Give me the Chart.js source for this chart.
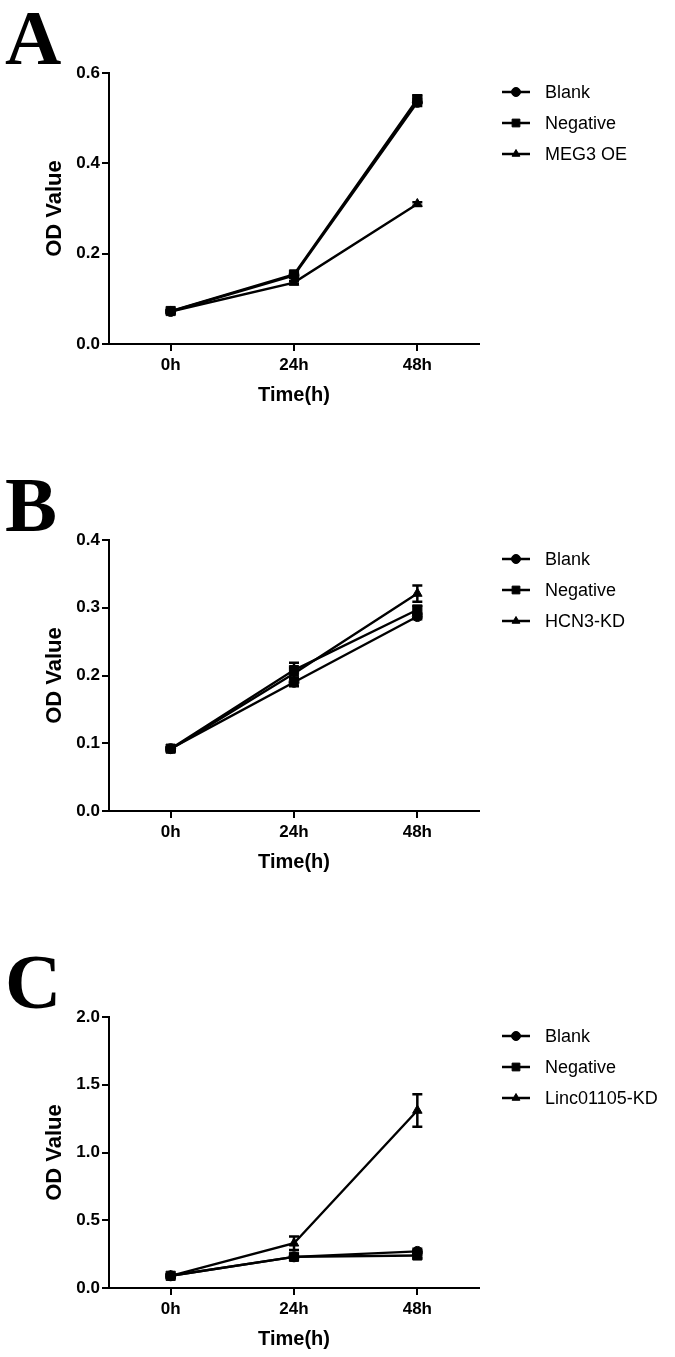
<!DOCTYPE html>
<html>
<head>
<meta charset="utf-8">
<script src="https://cdn.jsdelivr.net/npm/chart.js@4.4.0/dist/chart.umd.min.js"></script>
<style>
  body { margin: 0; background: #fff; width: 675px; height: 1357px; position: relative; overflow: hidden; }
  .panel { position: absolute; left: 0; width: 675px; height: 413px; }
  .letter { position: absolute; left: 5px; top: -1px; font: bold 78px/78px 'Liberation Serif', 'DejaVu Serif', serif; color: #000; }
</style>
</head>
<body>
<div class="panel" style="top:0px"><canvas id="chartA" width="675" height="413"></canvas><div class="letter">A</div></div>
<div class="panel" style="top:467px"><canvas id="chartB" width="675" height="413"></canvas><div class="letter">B</div></div>
<div class="panel" style="top:944px"><canvas id="chartC" width="675" height="413"></canvas><div class="letter">C</div></div>
<script>
'use strict';

// time points
var timeLabels = ['0h', '24h', '48h'];

// panel A - MEG3 overexpression
var aNames = ['Blank', 'Negative', 'MEG3 OE'];
var aBlank = [0.072, 0.152, 0.535];
var aNegative = [0.073, 0.154, 0.542];
var aMeg3 = [0.072, 0.136, 0.310];
var aBlankErr = [0.003, 0.004, 0.008];
var aNegativeErr = [0.003, 0.004, 0.009];
var aMeg3Err = [0.002, 0.003, 0.004];
var aTicks = { max: 0.6, step: 0.2 };

// panel B - HCN3 knockdown
var bNames = ['Blank', 'Negative', 'HCN3-KD'];
var bBlank = [0.092, 0.190, 0.287];
var bNegative = [0.092, 0.208, 0.297];
var bHcn3 = [0.091, 0.203, 0.321];
var bBlankErr = [0.002, 0.006, 0.004];
var bNegativeErr = [0.002, 0.011, 0.006];
var bHcn3Err = [0.002, 0.008, 0.012];
var bTicks = { max: 0.4, step: 0.1 };

// panel C - Linc01105 knockdown
var cNames = ['Blank', 'Negative', 'Linc01105-KD'];
var cBlank = [0.09, 0.23, 0.27];
var cNegative = [0.09, 0.23, 0.24];
var cLinc = [0.09, 0.33, 1.31];
var cBlankErr = [0.01, 0.02, 0.02];
var cNegativeErr = [0.01, 0.02, 0.02];
var cLincErr = [0.01, 0.05, 0.12];
var cTicks = { max: 2.0, step: 0.5 };

var markers = ['circle', 'rect', 'triangle'];
var markerSize = [5, 6.5, 5.5];

// vertical SEM bars drawn on the y scale
const errorBars = {
    id: 'errorBars',
    afterDatasetsDraw(chart) {
        const ctx = chart.ctx;
        const y = chart.scales.y;
        ctx.save();
        ctx.strokeStyle = '#000';
        ctx.lineWidth = 2.5;
        chart.data.datasets.forEach((ds, i) => {
            const meta = chart.getDatasetMeta(i);
            meta.data.forEach((pt, j) => {
                const v = ds.data[j], e = ds.errors[j];
                const top = y.getPixelForValue(v + e);
                const bot = y.getPixelForValue(v - e);
                ctx.beginPath();
                ctx.moveTo(pt.x, top); ctx.lineTo(pt.x, bot);
                ctx.moveTo(pt.x - 5, top); ctx.lineTo(pt.x + 5, top);
                ctx.moveTo(pt.x - 5, bot); ctx.lineTo(pt.x + 5, bot);
                ctx.stroke();
            });
        });
        ctx.restore();
    }
};

// legend on the right: line with marker, then label
const sideLegend = {
    id: 'sideLegend',
    afterDraw(chart) {
        const ctx = chart.ctx;
        ctx.save();
        chart.data.datasets.forEach((ds, i) => {
            const yy = 92 + i * 31;
            ctx.strokeStyle = '#000';
            ctx.fillStyle = '#000';
            ctx.lineWidth = 2.5;
            ctx.beginPath();
            ctx.moveTo(502, yy); ctx.lineTo(530, yy);
            ctx.stroke();
            ctx.lineWidth = 1;
            Chart.helpers.drawPoint(ctx, {
                pointStyle: ds.pointStyle,
                radius: ds.pointStyle === 'triangle' ? 4.5 : (ds.pointStyle === 'rect' ? 5.5 : 4.5),
                rotation: 0,
                borderWidth: 1
            }, 516, yy);
            ctx.font = '18px "Liberation Sans", Arial, sans-serif';
            ctx.textBaseline = 'middle';
            ctx.textAlign = 'left';
            ctx.fillText(ds.label, 545, yy + 1);
        });
        ctx.restore();
    }
};

function makePanel(id, names, series, errs, ticks) {
    var datasets = [];
    for (var i = 0; i < series.length; i++) {
        datasets.push({
            label: names[i],
            data: series[i],
            errors: errs[i],
            borderColor: '#000',
            backgroundColor: '#000',
            borderWidth: 2.4,
            pointStyle: markers[i],
            pointRadius: markerSize[i],
            pointBackgroundColor: '#000',
            pointBorderColor: '#000',
            pointBorderWidth: 1,
            tension: 0
        });
    }
    return new Chart(document.getElementById(id), {
        type: 'line',
        data: { labels: timeLabels, datasets: datasets },
        options: {
            responsive: false,
            animation: false,
            layout: { padding: { left: 38, top: 73, right: 196, bottom: 0 } },
            plugins: { legend: { display: false }, tooltip: { enabled: false } },
            scales: {
                x: {
                    offset: true,
                    grid: { drawOnChartArea: false, color: '#000', lineWidth: 2, tickLength: 7 },
                    border: { color: '#000', width: 2 },
                    ticks: { color: '#000', padding: 4, font: { family: 'Liberation Sans', size: 17, weight: 'bold' } },
                    title: {
                        display: true, text: 'Time(h)', color: '#000',
                        padding: { top: 4, bottom: 6 },
                        font: { family: 'Liberation Sans', size: 20, weight: 'bold' }
                    },
                    afterFit: s => { s.height = 69; }
                },
                y: {
                    min: 0,
                    max: ticks.max,
                    grid: { drawOnChartArea: false, color: '#000', lineWidth: 2, tickLength: 7 },
                    border: { color: '#000', width: 2 },
                    ticks: {
                        stepSize: ticks.step, color: '#000', padding: 2,
                        font: { family: 'Liberation Sans', size: 17, weight: 'bold' },
                        callback: v => Number(v).toFixed(1)
                    },
                    title: {
                        display: true, text: 'OD Value', color: '#000',
                        padding: { top: 4, bottom: 4 },
                        font: { family: 'Liberation Sans', size: 22, weight: 'bold' }
                    },
                    afterFit: s => { s.width = 71; }
                }
            }
        },
        plugins: [errorBars, sideLegend]
    });
}

makePanel('chartA', aNames, [aBlank, aNegative, aMeg3], [aBlankErr, aNegativeErr, aMeg3Err], aTicks);
makePanel('chartB', bNames, [bBlank, bNegative, bHcn3], [bBlankErr, bNegativeErr, bHcn3Err], bTicks);
makePanel('chartC', cNames, [cBlank, cNegative, cLinc], [cBlankErr, cNegativeErr, cLincErr], cTicks);
</script>
</body>
</html>
